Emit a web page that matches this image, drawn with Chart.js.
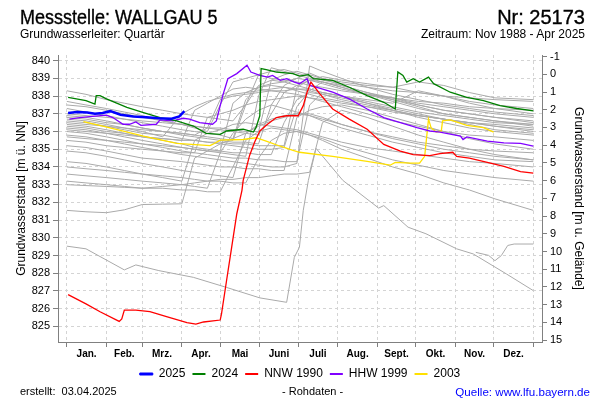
<!DOCTYPE html>
<html>
<head>
<meta charset="utf-8">
<script src="https://cdn.jsdelivr.net/npm/chart.js@4.4.1/dist/chart.umd.min.js"></script>
<style>
  body { margin: 0; background: #fff; }
  #wrap { position: relative; width: 600px; height: 400px; font-family: 'Liberation Sans', Arial, sans-serif; color: #000; }
  #wrap canvas { position: absolute; left: 0; top: 0; }
  .txt { position: absolute; white-space: nowrap; line-height: 1; }
</style>
</head>
<body>
<div id="wrap">
  <canvas id="gwChart" width="600" height="400"></canvas>
  <div class="txt" style="left:20px;top:7px;font-size:20px;transform:scaleX(0.9);transform-origin:left top;-webkit-text-stroke:0.35px #000;">Messstelle: WALLGAU 5</div>
  <div class="txt" style="right:15px;top:7px;font-size:20px;-webkit-text-stroke:0.35px #000;">Nr: 25173</div>
  <div class="txt" style="left:20px;top:28px;font-size:12px;">Grundwasserleiter: Quartär</div>
  <div class="txt" style="right:15px;top:28px;font-size:12px;">Zeitraum: Nov 1988 - Apr 2025</div>
  <div class="txt" style="left:20px;top:386px;font-size:11px;">erstellt:&nbsp;&nbsp;03.04.2025</div>
  <div class="txt" style="left:282px;top:386px;font-size:11px;">- Rohdaten -</div>
  <div class="txt" style="right:10px;top:386px;font-size:11.6px;color:#0000ff;">Quelle: www.lfu.bayern.de</div>
</div>
<script>
// axis layout values (day of year / m ü. NN)
const monthStarts = [0, 31, 59, 90, 120, 151, 181, 212, 243, 273, 304, 334, 365];
const monthNames = ['Jan.', 'Feb.', 'Mrz.', 'Apr.', 'Mai', 'Juni', 'Juli', 'Aug.', 'Sept.', 'Okt.', 'Nov.', 'Dez.'];
const levelTicks = [825, 826, 827, 828, 829, 830, 831, 832, 833, 834, 835, 836, 837, 838, 839, 840];
const depthTicks = [-1, 0, 1, 2, 3, 4, 5, 6, 7, 8, 9, 10, 11, 12, 13, 14, 15];
const groundLevel = 839.23;

// highlighted years
const days2025 = [1, 8, 16, 22, 28, 34, 42, 52, 62, 72, 82, 88, 92];
const vals2025 = [837.05, 837.1, 837.08, 837.0, 837.05, 837.15, 836.95, 836.85, 836.8, 836.75, 836.72, 836.85, 837.15];

const days2024 = [1, 15, 22, 23, 26, 31, 47, 60, 73, 86, 99, 109, 120, 125, 138, 146, 148, 151, 152, 156, 164, 177, 182, 189, 193, 208, 221, 235, 248, 257, 259, 263, 266, 271, 276, 283, 287, 300, 313, 326, 339, 352, 365];
const vals2024 = [837.93, 837.74, 837.55, 838.03, 838.03, 837.84, 837.36, 837.07, 836.79, 836.6, 836.31, 835.9, 835.84, 836.03, 836.13, 835.97, 836.22, 836.89, 839.55, 839.5, 839.36, 839.27, 839.13, 839.21, 838.98, 838.89, 838.5, 838.03, 837.65, 837.27, 839.36, 839.17, 838.79, 838.98, 838.79, 839.07, 838.7, 838.22, 837.93, 837.74, 837.46, 837.3, 837.17];

const days1990 = [1, 15, 26, 41, 43, 45, 54, 65, 78, 94, 101, 107, 120, 121, 125, 129, 133, 137, 138, 143, 147, 151, 157, 164, 172, 181, 185, 188, 191, 194, 198, 208, 221, 235, 248, 261, 271, 284, 292, 302, 305, 315, 329, 342, 355, 365];
const vals1990 = [826.79, 826.27, 825.83, 825.28, 825.42, 825.92, 825.92, 825.83, 825.55, 825.21, 825.13, 825.25, 825.36, 825.69, 827.59, 829.47, 831.36, 832.67, 833.24, 834.65, 835.41, 836.03, 836.41, 836.79, 836.89, 836.89, 837.46, 838.22, 838.79, 838.5, 838.13, 837.27, 836.7, 836.13, 835.27, 834.89, 834.7, 834.64, 834.75, 834.83, 834.6, 834.5, 834.26, 834.03, 833.74, 833.65];

const days1999 = [2, 10, 20, 31, 36, 44, 49, 54, 58, 70, 73, 83, 91, 96, 104, 114, 117, 122, 126, 133, 141, 144, 151, 157, 161, 167, 172, 178, 182, 188, 190, 195, 208, 221, 235, 248, 261, 274, 284, 292, 308, 310, 313, 329, 342, 355, 365];
const vals1999 = [836.7, 836.79, 836.85, 836.93, 836.79, 836.41, 836.41, 836.54, 836.35, 836.41, 836.66, 836.6, 836.75, 836.7, 836.5, 836.41, 836.6, 838.03, 838.98, 839.27, 839.74, 839.36, 839.17, 839.07, 839.17, 838.89, 838.98, 838.79, 838.7, 838.98, 838.6, 838.5, 838.22, 837.84, 837.27, 836.79, 836.5, 836.22, 836.03, 835.97, 835.74, 835.55, 835.7, 835.46, 835.36, 835.33, 835.17];

const days2003 = [13, 33, 60, 86, 112, 114, 120, 138, 148, 156, 167, 177, 182, 208, 235, 253, 257, 269, 276, 280, 283, 285, 289, 293, 294, 300, 313, 326, 334];
const vals2003 = [836.56, 836.22, 835.74, 835.33, 835.21, 835.27, 835.51, 835.55, 835.65, 835.46, 835.17, 834.94, 834.83, 834.6, 834.31, 834.1, 834.26, 834.22, 834.22, 834.6, 836.7, 836.22, 835.97, 836.03, 836.6, 836.66, 836.35, 836.22, 835.97];

// other years (grey), partial years with own days
const days1988 = [320, 330, 335, 340, 345, 350, 365];
const vals1988 = [829.18, 829.01, 828.71, 829.0, 829.57, 829.65, 829.65];
const days1989 = [0, 15, 45, 54, 72, 99, 125, 151, 172, 178, 182, 185, 189, 195, 216, 244, 248, 267, 281, 305, 318, 344, 365];
const vals1989 = [829.53, 829.38, 828.19, 828.47, 828.15, 827.77, 827.2, 826.61, 826.36, 828.9, 829.47, 831.55, 833.24, 835.05, 833.24, 831.68, 831.82, 830.6, 830.23, 829.38, 829.09, 827.96, 827.02];

// remaining grey years share one day grid
const greyDays = [0, 15, 31, 45, 59, 75, 90, 100, 110, 120, 130, 140, 150, 160, 170, 180, 190, 200, 215, 235, 255, 275, 295, 315, 335, 365];
const greyA = [838.3, 838.1, 837.8, 837.6, 837.4, 837.2, 837.0, 836.9, 836.8, 836.7, 836.6, 837.5, 839.2, 839.4, 839.5, 839.3, 839.1, 838.9, 838.7, 838.5, 838.3, 838.2, 838.0, 837.9, 837.8, 837.7];
const greyB = [837.7, 837.5, 837.3, 837.1, 836.9, 836.6, 836.4, 836.2, 836.0, 837.5, 838.8, 839.0, 839.2, 839.0, 838.9, 838.8, 838.6, 838.5, 838.3, 838.1, 837.9, 837.7, 837.6, 837.4, 837.3, 837.2];
const greyC = [837.3, 837.1, 836.9, 836.7, 836.5, 836.3, 836.1, 836.0, 835.9, 835.8, 835.6, 837.8, 838.5, 838.7, 838.8, 839.0, 838.9, 838.7, 838.4, 838.1, 837.9, 837.6, 837.4, 837.2, 837.0, 836.8];
const greyD = [836.8, 836.7, 836.5, 836.4, 836.2, 836.0, 835.8, 835.7, 835.6, 835.5, 835.4, 835.4, 835.3, 837.5, 838.6, 839.0, 839.3, 839.0, 838.6, 838.2, 837.9, 837.5, 837.2, 837.0, 836.8, 836.5];
const greyE = [836.6, 836.5, 836.3, 836.1, 835.9, 835.8, 835.6, 835.5, 835.4, 835.3, 835.2, 835.1, 835.0, 835.0, 835.1, 837.4, 838.3, 838.8, 838.6, 838.2, 837.8, 837.4, 837.0, 836.8, 836.6, 836.3];
const greyF = [836.4, 836.3, 836.1, 835.9, 835.7, 835.5, 835.3, 835.1, 835.0, 834.9, 837.6, 838.2, 838.5, 838.6, 838.5, 838.3, 838.1, 837.9, 837.7, 837.4, 837.2, 836.9, 836.7, 836.5, 836.3, 836.0];
const greyG = [836.3, 836.2, 836.0, 835.9, 835.7, 835.6, 835.5, 837.2, 837.6, 838.0, 838.4, 838.5, 838.4, 838.3, 838.2, 838.1, 837.9, 837.8, 837.6, 837.4, 837.1, 836.9, 836.7, 836.5, 836.4, 836.2];
const greyH = [836.2, 836.1, 835.9, 835.7, 835.5, 835.3, 835.1, 835.0, 834.9, 834.8, 834.7, 834.6, 838.0, 839.6, 839.4, 839.2, 839.0, 838.8, 838.5, 838.1, 837.8, 837.5, 837.2, 837.0, 836.8, 836.6];
const greyI = [836.0, 835.9, 835.7, 835.5, 835.3, 835.1, 834.9, 834.8, 834.7, 834.6, 834.5, 834.5, 834.4, 834.4, 834.3, 834.3, 837.5, 838.2, 838.0, 837.6, 837.2, 836.8, 836.5, 836.2, 836.0, 835.8];
const greyJ = [835.8, 835.7, 835.5, 835.3, 835.1, 834.9, 834.7, 834.6, 834.5, 834.4, 834.3, 834.2, 834.1, 834.0, 834.0, 834.2, 839.7, 839.4, 839.0, 838.5, 838.1, 837.8, 837.5, 837.3, 837.1, 836.9];
const greyK = [835.5, 835.4, 835.2, 835.1, 835.0, 834.9, 834.8, 834.8, 836.8, 837.0, 837.2, 837.5, 837.7, 837.8, 837.9, 838.0, 837.9, 837.7, 837.4, 837.0, 836.6, 836.3, 836.0, 835.8, 835.7, 835.5];
const greyL = [835.2, 835.1, 834.9, 834.7, 834.5, 834.4, 834.3, 834.2, 834.1, 834.0, 834.0, 833.9, 833.9, 833.8, 833.8, 836.8, 837.2, 837.4, 837.5, 837.2, 836.8, 836.4, 836.0, 835.6, 835.3, 835.0];
const greyM = [834.9, 834.8, 834.6, 834.4, 834.2, 834.0, 833.8, 833.7, 833.6, 833.5, 833.4, 835.9, 836.4, 836.7, 836.9, 837.0, 837.0, 836.8, 836.4, 836.0, 835.6, 835.3, 835.0, 834.8, 834.6, 834.4];
const greyN = [834.3, 834.2, 834.0, 833.8, 833.6, 833.4, 833.2, 835.5, 835.9, 836.1, 836.4, 836.5, 836.4, 836.3, 836.2, 836.1, 835.9, 835.7, 835.4, 835.1, 834.9, 834.7, 834.5, 834.3, 834.2, 834.0];
const greyO = [833.6, 833.5, 833.4, 833.3, 833.2, 833.1, 833.0, 832.9, 832.8, 834.8, 835.9, 836.7, 837.2, 837.5, 837.3, 837.1, 836.9, 836.6, 836.2, 835.8, 835.4, 835.1, 834.8, 834.6, 834.4, 834.3];
const greyP = [833.2, 833.1, 833.0, 832.9, 832.8, 832.8, 832.7, 832.7, 832.6, 832.6, 834.0, 835.5, 836.0, 836.2, 836.1, 836.0, 835.8, 835.5, 835.0, 834.5, 834.0, 833.6, 833.1, 832.7, 832.2, 831.55];
const greyQ = [831.55, 831.47, 831.42, 831.58, 831.88, 831.9, 831.92, 834.5, 834.9, 835.3, 835.6, 835.9, 836.3, 836.6, 836.8, 837.0, 836.9, 836.7, 836.4, 836.0, 835.7, 835.4, 835.2, 835.0, 834.9, 834.8];
const greyR = [836.5, 836.4, 836.3, 836.2, 836.1, 836.0, 835.9, 835.8, 836.2, 837.8, 838.0, 838.1, 838.2, 838.3, 838.3, 838.4, 838.4, 838.2, 838.0, 837.7, 837.4, 837.1, 836.9, 836.7, 836.5, 836.4];
const greyS = [837.0, 836.9, 836.8, 836.7, 836.6, 836.5, 836.4, 836.3, 836.2, 836.2, 836.1, 836.0, 836.0, 838.9, 839.2, 839.4, 839.2, 839.0, 838.8, 838.6, 838.5, 838.8, 838.6, 838.2, 837.9, 837.8];
const greyT = [833.0, 832.95, 832.9, 832.85, 832.8, 832.9, 833.0, 833.1, 833.2, 833.3, 833.3, 833.4, 833.4, 833.5, 833.6, 833.6, 833.7, 836.5, 837.2, 836.8, 836.3, 835.8, 835.4, 835.0, 834.7, 834.4];
const greyU = [836.7, 836.6, 836.4, 836.2, 836.0, 835.7, 837.0, 837.4, 837.7, 837.9, 838.1, 838.2, 838.3, 838.4, 838.5, 838.4, 838.3, 838.1, 837.8, 837.5, 837.2, 836.9, 836.7, 836.5, 836.3, 836.1];
const greyV = [836.1, 836.0, 835.9, 835.8, 835.7, 835.6, 835.5, 835.5, 835.4, 835.4, 835.3, 835.3, 835.2, 835.2, 835.2, 838.5, 838.9, 838.8, 838.5, 838.1, 837.7, 837.3, 837.0, 836.8, 836.6, 836.4];
const greyW = [837.5, 837.4, 837.2, 837.0, 836.8, 836.6, 836.4, 836.3, 836.2, 836.1, 836.0, 835.9, 835.8, 837.0, 838.2, 838.6, 838.9, 839.1, 838.9, 838.7, 838.5, 838.2, 838.0, 837.7, 837.5, 837.3];
const greyX = [834.0, 833.9, 833.8, 833.7, 833.6, 833.5, 833.4, 833.3, 833.2, 833.2, 833.1, 833.1, 834.5, 835.5, 835.9, 836.0, 835.8, 835.6, 835.2, 834.8, 834.4, 834.1, 833.8, 833.6, 833.4, 833.2];
const greyY = [835.7, 835.6, 835.5, 835.4, 835.3, 835.2, 835.1, 835.0, 834.9, 834.9, 834.8, 834.8, 834.7, 834.7, 836.5, 837.8, 838.2, 838.1, 837.9, 837.6, 837.3, 837.0, 836.7, 836.4, 836.1, 835.9];
const greyZ = [836.9, 836.8, 836.6, 836.4, 836.2, 836.0, 835.9, 835.8, 835.7, 835.6, 835.5, 837.5, 838.6, 838.9, 838.8, 838.6, 838.4, 838.2, 838.0, 837.8, 837.6, 838.3, 838.0, 837.6, 837.3, 837.0];

Chart.defaults.font.family = "'Liberation Sans', Arial, sans-serif";
Chart.defaults.color = '#000';

const toPoints = (days, vals) => days.map((d, i) => ({ x: d, y: vals[i] }));

function lineSet(label, days, vals, color, width) {
    return {
        label: label,
        data: toPoints(days, vals),
        borderColor: color,
        backgroundColor: color,
        borderWidth: width,
        pointRadius: 0,
        tension: 0,
        fill: false
    };
}

const datasets = [
    lineSet('2025', days2025, vals2025, '#0000ff', 2.5),
    lineSet('2024', days2024, vals2024, '#008000', 1.3),
    lineSet('NNW 1990', days1990, vals1990, '#ff0000', 1.3),
    lineSet('HHW 1999', days1999, vals1999, '#8000ff', 1.3),
    lineSet('2003', days2003, vals2003, '#ffe000', 1.3),
    lineSet('1988', days1988, vals1988, '#aaaaaa', 1),
    lineSet('1989', days1989, vals1989, '#aaaaaa', 1)
];
[greyA, greyB, greyC, greyD, greyE, greyF, greyG, greyH, greyI, greyJ, greyK, greyL, greyM,
 greyN, greyO, greyP, greyQ, greyR, greyS, greyT, greyU, greyV, greyW, greyX, greyY, greyZ].forEach((vals, i) => {
    datasets.push(lineSet('grau' + i, greyDays, vals, '#aaaaaa', 1));
});

// month boundaries carry the grid, month centres carry the names
const monthMids = monthNames.map((n, i) => (monthStarts[i] + monthStarts[i + 1]) / 2);
const isStart = v => monthStarts.includes(v);

const ctx = document.getElementById('gwChart');
new Chart(ctx, {
    type: 'line',
    data: { datasets: datasets },
    options: {
        responsive: false,
        animation: false,
        layout: { padding: { top: 55, bottom: 10, left: 0, right: 0 } },
        plugins: {
            legend: {
                position: 'bottom',
                labels: {
                    filter: item => item.datasetIndex < 5,
                    boxWidth: 13,
                    boxHeight: 2,
                    padding: 7,
                    font: { size: 12 },
                    generateLabels: chart => Chart.defaults.plugins.legend.labels.generateLabels(chart)
                        .map(l => Object.assign(l, { lineWidth: l.datasetIndex === 0 ? 1 : 0 }))
                }
            },
            tooltip: { enabled: false }
        },
        scales: {
            x: {
                type: 'linear',
                min: -6.9,
                max: 371.8,
                afterBuildTicks: s => {
                    s.ticks = monthStarts.concat(monthMids).sort((a, b) => a - b).map(v => ({ value: v }));
                },
                afterFit: s => { s.height = 19; },
                ticks: {
                    autoSkip: false,
                    maxRotation: 0,
                    padding: 1,
                    font: { size: 10, weight: 'bold' },
                    callback: v => {
                        const i = monthMids.indexOf(v);
                        return i >= 0 ? monthNames[i] : '';
                    }
                },
                grid: {
                    color: c => isStart(c.tick.value) ? '#d4d4d4' : 'rgba(0,0,0,0)',
                    tickColor: c => isStart(c.tick.value) ? '#808080' : 'rgba(0,0,0,0)',
                    tickLength: 5,
                    tickBorderDash: []
                },
                border: { color: '#808080', dash: [3, 3] }
            },
            y: {
                position: 'left',
                min: 824.12,
                max: 840.32,
                afterBuildTicks: s => { s.ticks = levelTicks.map(v => ({ value: v })); },
                afterFit: s => { s.width = 58; },
                ticks: { font: { size: 11 }, padding: 3 },
                grid: { color: '#d4d4d4', tickColor: '#808080', tickLength: 5, tickBorderDash: [] },
                border: { color: '#808080', dash: [3, 3] },
                title: {
                    display: true,
                    text: 'Grundwasserstand [m ü. NN]',
                    font: { size: 12 },
                    padding: { top: 14, bottom: 0 }
                }
            },
            y2: {
                position: 'right',
                reverse: true,
                min: groundLevel - 840.32,
                max: groundLevel - 824.12,
                afterBuildTicks: s => { s.ticks = depthTicks.map(v => ({ value: v })); },
                afterFit: s => { s.width = 58; },
                ticks: { font: { size: 11 }, padding: 3 },
                grid: { drawOnChartArea: false, tickColor: '#808080', tickLength: 5 },
                border: { color: '#808080' },
                title: {
                    display: true,
                    text: 'Grundwasserstand [m u. Gelände]',
                    font: { size: 12 },
                    padding: { top: 14, bottom: 0 }
                }
            }
        }
    }
});
</script>
</body>
</html>
